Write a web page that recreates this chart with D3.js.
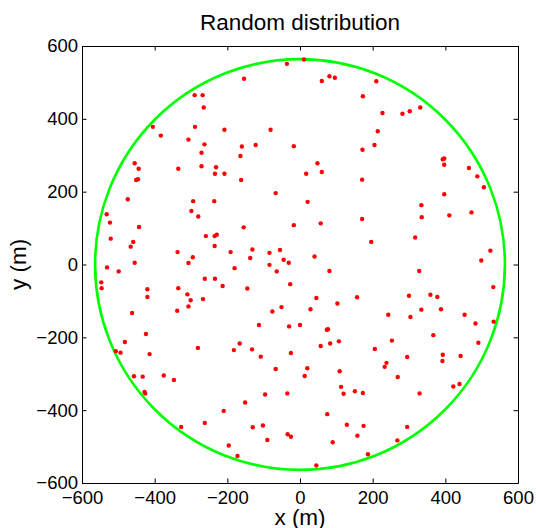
<!DOCTYPE html>
<meta charset="utf-8">
<style>
  body { margin: 0; background: #fff; }
  svg { font-family: "Liberation Sans", Arial, Helvetica, sans-serif; }
</style>
<svg width="536" height="528"></svg>
<script src="https://d3js.org/d3.v7.min.js"></script>
<script>

// point positions in metres
var xs = [-36, 11, -154, 60, 81, 96, 210, -290, -268, -265, 173, 227, 282, 302, 331,
  -405, -383, -289, -208, -81, -307, -122, -160, -263, -17, 214, 205, 172, -271, -164,
  393, 397, 397, -455, -444, -335, -271, -231, -234, -208, 48, 60, 17, 465, 488, 506,
  -451, -446, -162, 171, -474, -294, -236, -67, 21, 397, 334, -532, -299, -280, 335,
  411, 472, -523, -443, -259, -155, -17, 57, 171, -521, -459, -235, -229, 317, 196,
  -466, -235, -337, -191, -131, -84, -55, 524, -295, -137, 40, -455, -307, -84, -45,
  -31, 499, -531, -499, -180, -64, 81, 328, -547, -546, -420, -335, -262, -234, -213,
  -145, -27, 532, -420, -310, -301, -267, 45, 157, 300, 359, 378, -307, -338, -462,
  -76, -51, 29, 103, 334, 388, 243, 304, 453, -113, -30, 0, 74, 77, 483, 533, 367,
  -424, -482, -166, 57, 83, 107, 253, 491, -507, -494, -414, -281, -182, -132, -25,
  -108, 206, 295, 393, 442, 392, 238, 233, -67, 20, 109, 13, -457, -433, -375, -347,
  269, 113, -428, -426, -96, -35, 120, 151, 173, 329, 439, 422, -151, -210, 75, -327,
  -262, -130, -102, -34, -25, 129, 158, 175, 295, -90, 90, 268, -196, -172, 187, 45];
var ys = [551, 563, 510, 504, 517, 513, 503, 465, 465, 431, 462, 416, 414, 421, 431,
  378, 354, 378, 370, 370, 343, 328, 324, 330, 325, 366, 328, 315, 307, 298,
  289, 291, 274, 278, 263, 263, 270, 267, 249, 249, 278, 254, 249, 265, 242, 212,
  232, 234, 232, 233, 179, 174, 174, 196, 172, 193, 163, 138, 147, 132, 130,
  135, 143, 115, 103, 78, 102, 108, 113, 125, 71, 62, 78, 82, 74, 62,
  49, 51, 34, 34, 41, 32, 40, 38, 20, 18, 22, 5, 4, -1, 13,
  5, 11, -8, -19, -10, -19, -18, -18, -49, -65, -68, -65, -39, -39, -59,
  -66, -54, -62, -89, -82, -98, -95, -92, -90, -86, -83, -89, -115, -127, -133,
  -129, -117, -123, -107, -124, -123, -138, -144, -138, -166, -170, -166, -179, -178, -162, -157, -194,
  -191, -213, -217, -224, -217, -211, -209, -215, -238, -242, -246, -229, -235, -233, -243,
  -253, -232, -254, -248, -251, -265, -270, -281, -287, -285, -293, -306, -307, -308, -305, -317,
  -309, -336, -350, -354, -357, -354, -355, -348, -353, -354, -328, -335, -379, -402, -411, -446,
  -435, -447, -442, -466, -473, -440, -470, -443, -446, -482, -488, -483, -497, -526, -521, -552];

var boundaryRadius = 564;   // 1 km^2 disc
var tickValues = [-600, -400, -200, 0, 200, 400, 600];

var svg = d3.select("svg");
var plotLeft = 82, plotRight = 518, plotTop = 46, plotBottom = 483;

var x = d3.scaleLinear().domain([-600, 600]).range([plotLeft, plotRight]);
var y = d3.scaleLinear().domain([-600, 600]).range([plotBottom, plotTop]);

// boundary circle
svg.append("ellipse")
    .attr("cx", x(0))
    .attr("cy", y(0))
    .attr("rx", x(boundaryRadius) - x(0))
    .attr("ry", y(0) - y(boundaryRadius))
    .attr("fill", "none")
    .attr("stroke", "#00ff00")
    .attr("stroke-width", 2.6);

// points
svg.append("g")
    .selectAll("circle")
    .data(d3.range(xs.length))
    .enter().append("circle")
    .attr("cx", function(i) { return x(xs[i]); })
    .attr("cy", function(i) { return y(ys[i]); })
    .attr("r", 2.2)
    .attr("fill", "#ff0000");

// axes, ticks pointing inwards on all four sides
function styleAxis(g) {
    g.selectAll("path, line").attr("stroke", "#000").attr("stroke-width", 1);
    g.selectAll("text").attr("fill", "#000").attr("font-size", "18.5px");
}

svg.append("g")
    .attr("transform", "translate(0," + plotBottom + ")")
    .call(d3.axisBottom(x).tickValues(tickValues).tickSizeInner(-4.5).tickSizeOuter(0).tickPadding(8))
    .call(styleAxis);

svg.append("g")
    .attr("transform", "translate(" + plotLeft + ",0)")
    .call(d3.axisLeft(y).tickValues(tickValues).tickSizeInner(-4.5).tickSizeOuter(0).tickPadding(4))
    .call(styleAxis);

svg.append("g")
    .attr("transform", "translate(0," + plotTop + ")")
    .call(d3.axisTop(x).tickValues(tickValues).tickSizeInner(-4.5).tickSizeOuter(0).tickFormat(""))
    .call(styleAxis);

svg.append("g")
    .attr("transform", "translate(" + plotRight + ",0)")
    .call(d3.axisRight(y).tickValues(tickValues).tickSizeInner(-4.5).tickSizeOuter(0).tickFormat(""))
    .call(styleAxis);

// labels
svg.append("text")
    .attr("x", (plotLeft + plotRight) / 2)
    .attr("y", 29.5)
    .attr("text-anchor", "middle")
    .attr("font-size", "22.5px")
    .text("Random distribution");

svg.append("text")
    .attr("x", (plotLeft + plotRight) / 2)
    .attr("y", 525)
    .attr("text-anchor", "middle")
    .attr("font-size", "22.5px")
    .text("x (m)");

svg.append("text")
    .attr("transform", "translate(26," + (plotTop + plotBottom) / 2 + ") rotate(-90)")
    .attr("text-anchor", "middle")
    .attr("font-size", "22.5px")
    .text("y (m)");

</script>
